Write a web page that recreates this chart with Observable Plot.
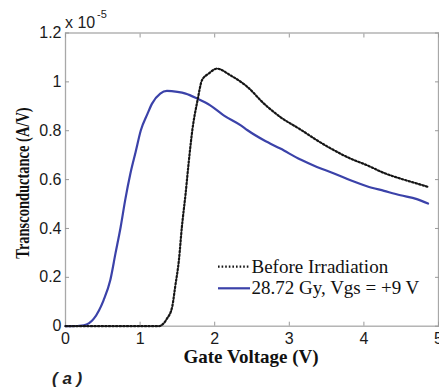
<!DOCTYPE html>
<html>
<head>
<meta charset="utf-8">
<script src="https://cdn.jsdelivr.net/npm/d3@7"></script>
<script src="https://cdn.jsdelivr.net/npm/@observablehq/plot@0.6"></script>
<style>
  html, body { margin: 0; padding: 0; background: #fff; }
  #wrap { position: relative; width: 439px; height: 390px; overflow: hidden; }
  #chart { position: absolute; left: 0; top: 0; }
  #overlay { position: absolute; left: 0; top: 0; pointer-events: none; }
  .serif { font-family: "Liberation Serif", "Times New Roman", serif; fill: #111; }
  .sans { font-family: "Liberation Sans", Arial, sans-serif; fill: #222; }
</style>
</head>
<body>
<div id="wrap">
  <div id="chart"></div>
  <svg id="overlay" width="439" height="390"></svg>
</div>
<script>
// Gate voltage (V) and transconductance (x 1e-5 A/V)
const beforeV = [0, 1.25, 1.36, 1.43, 1.47, 1.52, 1.56, 1.61, 1.65, 1.70, 1.77, 1.83, 1.92, 2.03, 2.21, 2.44, 2.66, 2.88, 3.15, 3.37, 3.60, 3.82, 4.04, 4.27, 4.49, 4.71, 4.86];
const beforeG = [0, 0, 0.031, 0.079, 0.161, 0.270, 0.406, 0.543, 0.666, 0.802, 0.925, 1.007, 1.034, 1.054, 1.027, 0.979, 0.911, 0.856, 0.805, 0.761, 0.720, 0.686, 0.659, 0.627, 0.604, 0.584, 0.570];
const irrV = [0, 0.07, 0.245, 0.38, 0.51, 0.60, 0.67, 0.74, 0.80, 0.87, 0.94, 1.01, 1.10, 1.16, 1.27, 1.36, 1.50, 1.61, 1.77, 1.94, 2.12, 2.35, 2.44, 2.66, 2.88, 3.15, 3.37, 3.60, 3.82, 4.04, 4.27, 4.49, 4.71, 4.86];
const irrG = [0, 0, 0.004, 0.031, 0.106, 0.188, 0.298, 0.407, 0.516, 0.625, 0.713, 0.802, 0.870, 0.911, 0.952, 0.963, 0.959, 0.952, 0.931, 0.904, 0.863, 0.822, 0.802, 0.761, 0.727, 0.682, 0.652, 0.625, 0.597, 0.573, 0.554, 0.536, 0.520, 0.502];
const seriesNames = ["Before Irradiation", "28.72 Gy, Vgs = +9 V"];
const xTicks = [0, 1, 2, 3, 4, 5];
const yTicks = [0, 0.2, 0.4, 0.6, 0.8, 1, 1.2];
const xLabel = "Gate Voltage (V)";
const yLabel = "Transconductance (A/V)";
const multiplier = ["x 10", "-5"];
const panelLabel = "( a )";

const before = beforeV.map((v, i) => ({v, g: beforeG[i]}));
const irr = irrV.map((v, i) => ({v, g: irrG[i]}));
const blue = "#3b42a9";
const dark = "#161616";
const dots = "1.6,2";
const fmtY = d => d === 0 ? "0" : String(+d.toFixed(1));

const plot = Plot.plot({
  width: 439,
  height: 365,
  marginLeft: 65,
  marginRight: 1,
  marginTop: 32.5,
  marginBottom: 39.3,
  style: {fontFamily: "'Liberation Sans', Arial, sans-serif", fontSize: "16px", color: "#1a1a1a", background: "#fff"},
  x: {domain: [0, 5]},
  y: {domain: [0, 1.2]},
  marks: [
    Plot.frame({stroke: "#a8a8a8", strokeWidth: 1.3}),
    Plot.axisX({anchor: "bottom", ticks: xTicks, tickSize: -4, tickPadding: 10, tickFormat: d => String(d), stroke: "#999", label: null, fontSize: 16}),
    Plot.axisX({anchor: "top", ticks: xTicks, tickSize: -4, tickFormat: () => "", stroke: "#999", label: null}),
    Plot.axisY({anchor: "left", ticks: yTicks, tickSize: -4, tickPadding: 8, tickFormat: fmtY, stroke: "#999", label: null, fontSize: 16}),
    Plot.axisY({anchor: "right", ticks: yTicks, tickSize: -4, tickFormat: () => "", stroke: "#999", label: null}),
    Plot.line(irr, {x: "v", y: "g", stroke: blue, strokeWidth: 2.2, curve: "monotone-x"}),
    Plot.line(before, {x: "v", y: "g", stroke: dark, strokeWidth: 2.2, strokeDasharray: dots, curve: "monotone-x"})
  ]
});
document.getElementById("chart").appendChild(plot);

// Annotations: multiplier, axis labels, panel label, legend
const ov = d3.select("#overlay");
const m = ov.append("g").attr("class", "sans");
m.append("text").attr("x", 65).attr("y", 28).attr("font-size", 16).text(multiplier[0]);
m.append("text").attr("x", 97).attr("y", 18).attr("font-size", 11).text(multiplier[1]);

ov.append("text").attr("class", "serif")
  .attr("transform", "translate(29,183) rotate(-90) scale(1,1.3)")
  .attr("text-anchor", "middle").attr("font-size", 14.5).attr("font-weight", "bold")
  .text(yLabel);

ov.append("text").attr("class", "serif")
  .attr("x", 251).attr("y", 363).attr("text-anchor", "middle")
  .attr("font-size", 19).attr("font-weight", "bold").text(xLabel);

ov.append("text").attr("class", "sans")
  .attr("x", 52).attr("y", 384).attr("font-size", 17)
  .attr("font-weight", "bold").attr("font-style", "italic")
  .attr("xml:space", "preserve").style("white-space", "pre").text(panelLabel);

const legendStyles = [{stroke: dark, dash: dots}, {stroke: blue, dash: null}];
const rowLineY = [266.7, 288.3];
const rowBase = [272.7, 294.3];
seriesNames.forEach((name, i) => {
  const s = legendStyles[i];
  const ln = ov.append("line").attr("x1", 218).attr("x2", 250).attr("y1", rowLineY[i]).attr("y2", rowLineY[i])
    .attr("stroke", s.stroke).attr("stroke-width", 2.2);
  if (s.dash) ln.attr("stroke-dasharray", s.dash);
  ov.append("text").attr("class", "serif").attr("x", 251.5).attr("y", rowBase[i])
    .attr("font-size", 19).text(name);
});
</script>
</body>
</html>
